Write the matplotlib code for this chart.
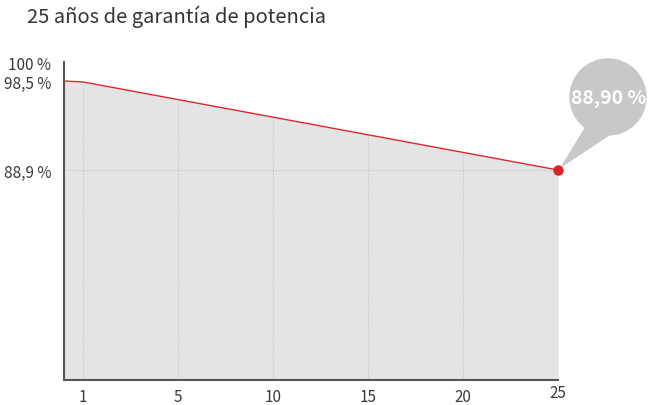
import numpy as np
import matplotlib.pyplot as plt
from matplotlib.patches import Circle, Polygon
from matplotlib.transforms import ScaledTranslation

plt.rcParams['font.family'] = ['Noto Sans CJK JP', 'DejaVu Sans']

# datos
years = ['1', '5', '10', '15', '20', '25']
start_value = 98.5                      # valor en el año 0 (eje)
power = [98.4, 96.5, 94.6, 92.7, 90.8, 88.9]
y_ticks = [88.9, 98.5, 100]
y_labels = ['88,9 %', '98,5 %', '100 %']
final_label = '88,90 %'

W, H = 648, 406
fig = plt.figure(figsize=(W / 100, H / 100), dpi=100)
ax = fig.add_axes([64 / W, (H - 381) / H, 494 / W, 318 / H])

pos = np.arange(len(years))
x_all = np.concatenate([[-0.2], pos])
y_all = np.concatenate([[start_value], power])

ymin = 66.25
ax.fill_between(x_all, ymin, y_all, color='#e4e4e4', lw=0, zorder=1)
ax.vlines(pos[:-1], ymin, power[:-1], colors='#c4c4c4', linestyles=(0, (1, 1.5)),
          lw=0.8, zorder=2)
ax.hlines(power[-1], -0.2, pos[-1], colors='#c4c4c4', linestyles=(0, (1, 1.5)),
          lw=0.8, zorder=2)
ax.plot(x_all, y_all, color='#e0252c', lw=1.0, zorder=3)
ax.plot(pos[-1], power[-1], 'o', color='#d9222a', ms=6.5, zorder=4, clip_on=False)

ax.set_xlim(-0.2, 5)
ax.set_ylim(ymin, 100.55)
ax.set_xticks(pos, years)
ax.set_yticks(y_ticks, y_labels)
ax.tick_params(length=0, labelsize=11, colors='#3a3a3a')
ax.tick_params(axis='x', pad=6)
ax.tick_params(axis='y', pad=9)
# el último año va un poco más arriba y la etiqueta de 100 % también
xl = ax.get_xticklabels()[-1]
xl.set_transform(xl.get_transform() + ScaledTranslation(0, 3 / 72, fig.dpi_scale_trans))
yl = ax.get_yticklabels()[-1]
yl.set_transform(yl.get_transform() + ScaledTranslation(0, 3 / 72, fig.dpi_scale_trans))
for s in ['top', 'right']:
    ax.spines[s].set_visible(False)
for s in ['left', 'bottom']:
    ax.spines[s].set_color('#5a5555')
    ax.spines[s].set_linewidth(1.5)
ax.set_facecolor('none')

# bocadillo
bubble_col = '#c6c8ca'
fig.patches.append(Circle((608, H - 98), 38, transform=None, color=bubble_col, zorder=5))
fig.patches.append(Polygon([(586, H - 128), (609, H - 136), (562, H - 167)], closed=True,
                           transform=None, color=bubble_col, zorder=5))
fig.text(609 / W, (H - 98) / H, final_label, color='white', fontsize=14, fontweight='bold',
         ha='center', va='center', zorder=6)

fig.text(27 / W, (H - 17) / H, '25 años de garantía de potencia', fontsize=14.5,
         color='#333333', ha='left', va='center')

fig.savefig('out.png', dpi=100)
